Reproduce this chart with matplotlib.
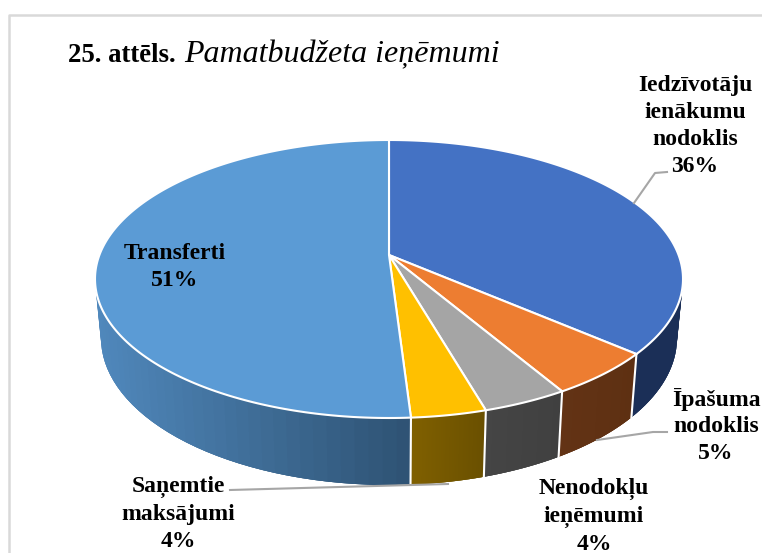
import numpy as np
import matplotlib
matplotlib.use('Agg')
import matplotlib.pyplot as plt

categories = ['Iedzīvotāju\nienākumu\nnodoklis', 'Īpašuma\nnodoklis',
              'Nenodokļu\nieņēmumi', 'Saņemtie\nmaksājumi', 'Transferti']
values = [36.3, 5.2, 4.0, 3.5, 51.0]
top_colors = ['#4472C4', '#ED7D31', '#A5A5A5', '#FFC000', '#5B9BD5']
# side colour at the left and at the right end of each slice
side_left = ['#1B2F57', '#633315', '#454545', '#806000', '#5088BC']
side_right = ['#1B2F57', '#5E3012', '#404040', '#6A5000', '#2E5273']
label_pos = [(695, 126), (716, 426), (594, 516), (178, 514), (175, 267)]

# pie geometry, in pixels
cx = 389. ; cy_top = 279. ; a_top = 294. ; b_top = 139.
cy_bot = 338. ; a_bot = 288. ; b_bot = 147.
c = 24./139. # perspective shift of the pie centre

def rim(theta, cy, a, b):
    # theta is clockwise from the top of the pie, in radians
    xx = np.sin(theta) ; yy = np.cos(theta)
    den = 1. + c*yy
    return cx + a*xx*np.sqrt(1. - c*c)/den, cy - b*(yy + c)/den

def hex2rgb(col):
    return np.array(matplotlib.colors.to_rgb(col))

fig = plt.figure(figsize=(7.62, 5.53), dpi=100)
ax = fig.add_axes([0, 0, 1, 1])
ax.set_xlim(0, 762) ; ax.set_ylim(553, 0)
ax.axis('off')

plt.rcParams['font.family'] = ['Liberation Serif', 'DejaVu Serif']

# Chart frame
ax.plot([9, 9, 762], [553, 15, 15], color='#D9D9D9', lw=1.8, zorder=1)

edges = np.radians(np.concatenate(([0.], np.cumsum(values)))*3.6)

# Side of the pie, in overlapping strips to get the gradients without seams
for ii in range(len(values)):
    th = np.linspace(edges[ii], edges[ii+1], 80)
    xt, yt = rim(th, cy_top, a_top, b_top)
    xb, yb = rim(th, cy_bot, a_bot, b_bot)
    c0 = hex2rgb(side_left[ii]) ; c1 = hex2rgb(side_right[ii])
    xmin = min(xt) ; xmax = max(xt)
    for jj in range(len(th)-1):
        kk = min(jj+3, len(th)-1)
        ff = (0.5*(xt[jj]+xt[jj+1]) - xmin)/(xmax - xmin)
        ax.fill(np.r_[xt[jj:kk+1], xb[jj:kk+1][::-1]],
                np.r_[yt[jj:kk+1], yb[jj:kk+1][::-1]],
                color=c0 + ff*(c1-c0), lw=0, zorder=2)

# White lines between the side parts, only on the front
for th0 in edges[1:5]:
    xt, yt = rim(th0, cy_top, a_top, b_top)
    xb, yb = rim(th0, cy_bot, a_bot, b_bot)
    ax.plot([xt, xb], [yt, yb], color='white', lw=1.5, zorder=3)

# Top of the pie
x0 = cx ; y0 = cy_top - b_top*c
for ii in range(len(values)):
    th = np.linspace(edges[ii], edges[ii+1], 200)
    xt, yt = rim(th, cy_top, a_top, b_top)
    ax.fill(np.r_[x0, xt], np.r_[y0, yt], facecolor=top_colors[ii],
            edgecolor='white', lw=1.5, joinstyle='round', zorder=4)

# Leader lines
lcol = '#A6A6A6'
ax.plot([634, 655, 667], [203, 173, 172], color=lcol, lw=1.5, zorder=5)
ax.plot([597, 653, 667], [440, 432, 432], color=lcol, lw=1.5, zorder=5)
ax.plot([230, 448], [490, 484], color=lcol, lw=1.5, zorder=5)

# Labels
for name, val, pos in zip(categories, values, label_pos):
    ax.text(pos[0], pos[1], '{}\n{:.0f}%'.format(name, val), ha='center',
            va='center', fontsize=17, fontweight='bold', linespacing=1.37,
            color='black', zorder=6)

# Title
ax.text(68, 62, '25. attēls.', fontsize=19.3, fontweight='bold',
        va='baseline', color='black', zorder=6)
ax.text(184, 62, 'Pamatbudžeta ieņēmumi', fontsize=23, style='italic',
        va='baseline', color='black', zorder=6)

fig.savefig('out.png', dpi=100)
